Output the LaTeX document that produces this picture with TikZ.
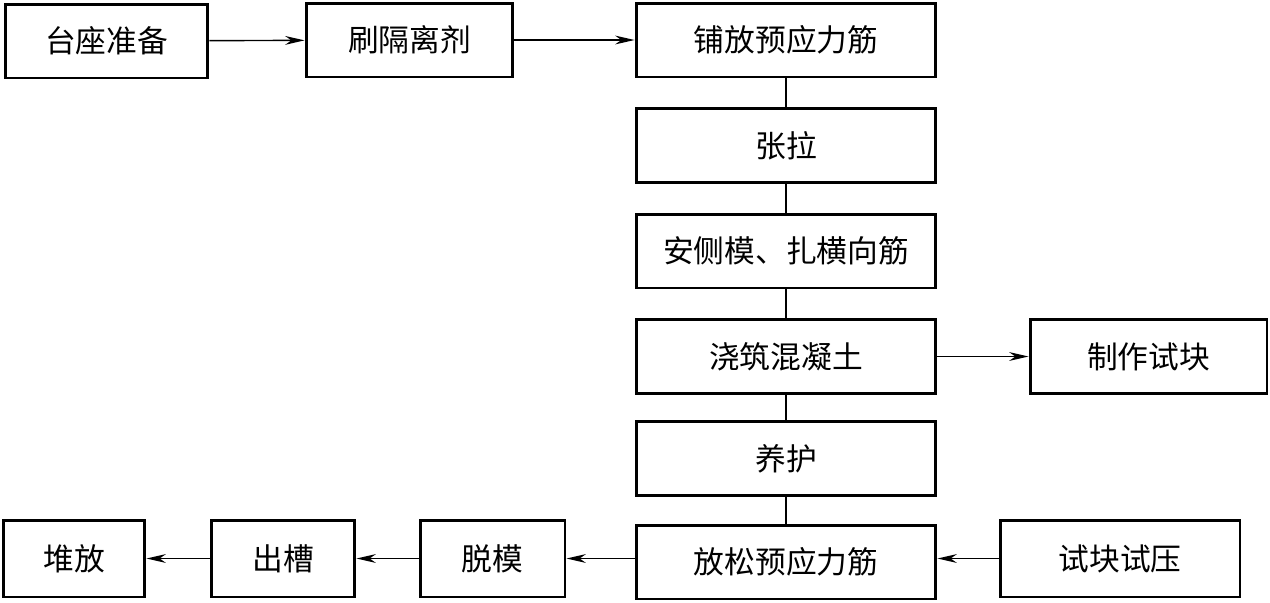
\documentclass[tikz,border=0pt]{standalone}
\usepackage{fontspec}
\setmainfont{Noto Sans CJK SC}
\usetikzlibrary{arrows.meta}

\begin{document}
\begin{tikzpicture}[x=0.02cm, y=-0.02cm,
    stepbox/.style={draw, line width=1.7pt, minimum height=1.48cm, inner sep=0pt, font=\fontsize{17.5}{19}\selectfont},
    flow/.style={line width=0.8pt, -{Stealth[length=11pt, width=5pt, inset=3.5pt]}},
    link/.style={line width=0.8pt}]
  \useasboundingbox (0,0) rectangle (1270,602);
  % top row
  \node[stepbox, minimum width=4.06cm] (Prep) at (106.5,41) {台座准备};
  \node[stepbox, minimum width=4.14cm] (Brush) at (409.5,40) {刷隔离剂};
  \node[stepbox, minimum width=6cm] (Lay) at (786,40) {铺放预应力筋};
  % main column
  \node[stepbox, minimum width=6cm] (Tension) at (786,145.5) {张拉};
  \node[stepbox, minimum width=6cm] (Form) at (786,251) {安侧模、扎横向筋};
  \node[stepbox, minimum width=6cm] (Pour) at (786,356.5) {浇筑混凝土};
  \node[stepbox, minimum width=6cm] (Cure) at (786,458.5) {养护};
  \node[stepbox, minimum width=6cm] (Release) at (786,562) {放松预应力筋};
  % side boxes
  \node[stepbox, minimum width=4.74cm] (Sample) at (1148.5,356.5) {制作试块};
  \node[stepbox, minimum width=4.8cm, minimum height=1.54cm] (Test) at (1120,558.5) {试块试压};
  % bottom row
  \node[stepbox, minimum width=2.9cm, minimum height=1.54cm] (Demold) at (492.5,558.5) {脱模};
  \node[stepbox, minimum width=2.88cm, minimum height=1.54cm] (Lift) at (283,558.5) {出槽};
  \node[stepbox, minimum width=2.84cm, minimum height=1.54cm] (Stack) at (74,558.5) {堆放};

  \draw[flow] (Prep) -- (Brush);
  \draw[flow] (Brush) -- (Lay);
  \draw[link] (Lay) -- (Tension);
  \draw[link] (Tension) -- (Form);
  \draw[link] (Form) -- (Pour);
  \draw[link] (Pour) -- (Cure);
  \draw[link] (Cure) -- (Release);
  \draw[flow] (Pour) -- (Sample);
  \draw[flow] (Test.west) -- (Test.west -| Release.east);
  \draw[flow] (Release.west |- Demold.east) -- (Demold.east);
  \draw[flow] (Demold) -- (Lift);
  \draw[flow] (Lift) -- (Stack);
\end{tikzpicture}
\end{document}
